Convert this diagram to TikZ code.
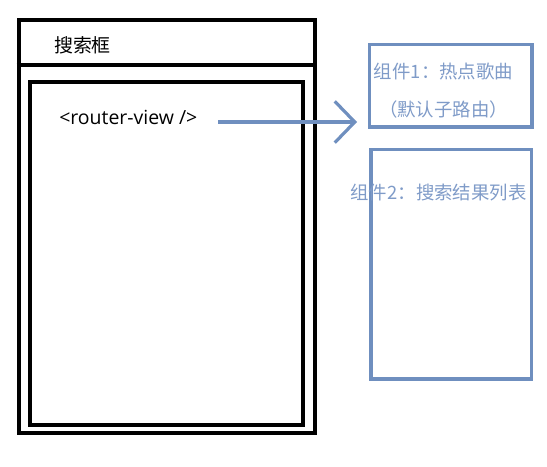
\documentclass[tikz,border=0pt]{standalone}
\usepackage{fontspec}
\setmainfont{Open Sans}
\newfontfamily\cjk{Noto Sans CJK SC}
\usetikzlibrary{arrows.meta}
\definecolor{boxblue}{HTML}{6F8FBF}
\definecolor{txtblue}{HTML}{7F9BC8}
\tikzset{
  blackbox/.style={draw=black, line width=3pt, inner sep=0pt},
  bluebox/.style={draw=boxblue, line width=2.6pt, inner sep=0pt},
  blacktxt/.style={font=\cjk\fontsize{14.2pt}{17pt}\selectfont, text=black, inner sep=0pt},
  bluetxt/.style={font=\cjk\fontsize{13.8pt}{17pt}\selectfont, text=txtblue, inner sep=0pt},
  conn/.style={draw=boxblue, line width=2.4pt, -{Straight Barb[length=15pt, width=31pt, line width=2.4pt]}}
}
\begin{document}
\begin{tikzpicture}[x=0.75pt, y=-0.75pt]
\useasboundingbox (0,0) rectangle (547,467);
\node[blackbox, minimum width=222pt, minimum height=309.4pt] (outer) at (166.5,226.75) {};
\coordinate (hd) at (0,65);
\draw[line width=3pt] (outer.west |- hd) -- (outer.east |- hd);
\node[blackbox, minimum width=204.4pt, minimum height=256.9pt] (inner) at (166.25,253.25) {};
\node[blacktxt] (search) at (82.5,45) {搜索框};
\node[blacktxt, anchor=west, font=\fontsize{14.6pt}{17pt}\selectfont] (rv) at (59,117) {<router-view />};
\node[bluebox, minimum width=121.9pt, minimum height=61.9pt] (c1) at (450.75,85.75) {};
\node[bluebox, minimum width=120.4pt, minimum height=172.1pt] (c2) at (451.25,264.25) {};
\node[bluetxt] (c1a) at (443.5,72) {组件1：热点歌曲};
\node[bluetxt] (c1b) at (443.5,110) {（默认子路由）};
\node[bluetxt] (c2a) at (438.5,193) {组件2：搜索结果列表};
\coordinate (aS) at (218,122);
\coordinate (aE) at (357,122);
\draw[conn] (aS) -- (aE);
\end{tikzpicture}
\end{document}
